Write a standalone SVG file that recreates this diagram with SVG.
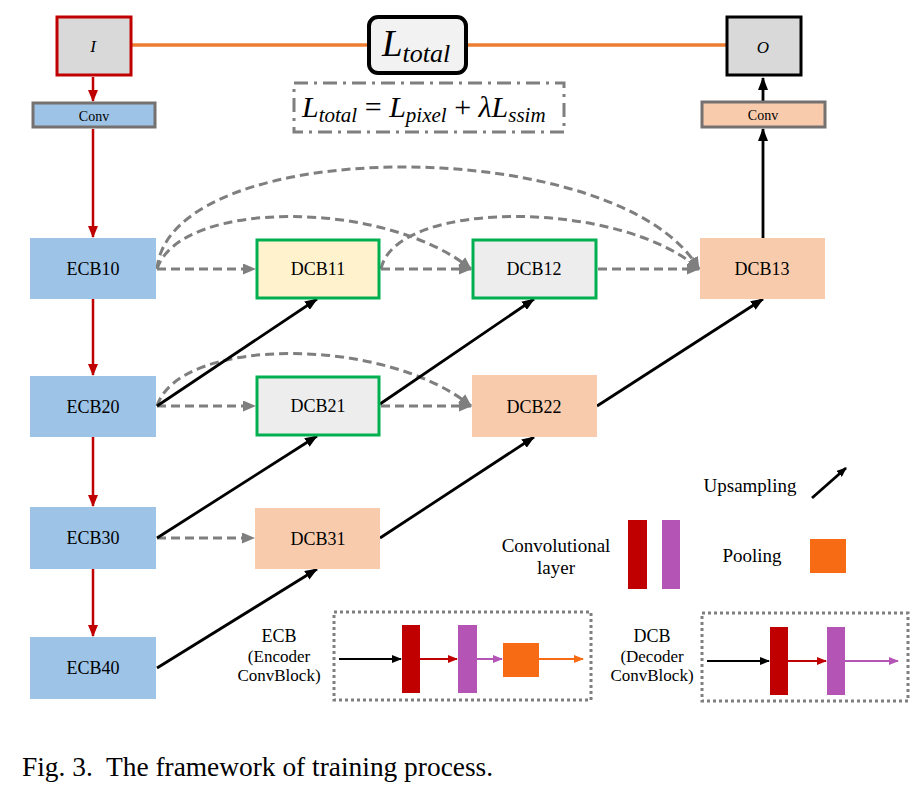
<svg xmlns="http://www.w3.org/2000/svg" width="918" height="792" viewBox="0 0 918 792">
<style>
.lbl{font-family:"Liberation Serif","Times New Roman",serif;font-size:18px;fill:#000;text-anchor:middle;dominant-baseline:central}
.leg{font-family:"Liberation Serif","Times New Roman",serif;font-size:19px;fill:#000;text-anchor:middle}
.sub{font-family:"Liberation Serif","Times New Roman",serif;font-size:17px;fill:#000;text-anchor:middle}
.math{font-family:"Liberation Serif","Times New Roman",serif;font-style:italic;fill:#000}
.ecb{fill:#9dc3e6}
.dcbp{fill:#f8cbad}
.green{stroke:#00b050;stroke-width:3}
.red{stroke:#c00000;stroke-width:2.5;fill:none}
.up{stroke:#000;stroke-width:2.8;fill:none}
.skip{stroke:#7f7f7f;stroke-width:3;fill:none;stroke-dasharray:9 5}
.dot{stroke:#7f7f7f;stroke-width:3;fill:none;stroke-dasharray:3 3}
</style>
<defs>
<marker id="mRed" markerWidth="12" markerHeight="10" refX="11" refY="5" orient="auto" markerUnits="userSpaceOnUse"><path d="M0,0 L12,5 L0,10 Z" fill="#c00000"/></marker>
<marker id="mBlk" markerWidth="13" markerHeight="10" refX="12" refY="5" orient="auto" markerUnits="userSpaceOnUse"><path d="M0,0 L13,5 L0,10 Z" fill="#000"/></marker>
<marker id="mGry" markerWidth="13" markerHeight="11" refX="12" refY="5.5" orient="auto" markerUnits="userSpaceOnUse"><path d="M0,0 L13,5.5 L0,11 Z" fill="#7f7f7f"/></marker>
<marker id="mSBlk" markerWidth="10" markerHeight="8" refX="9" refY="4" orient="auto" markerUnits="userSpaceOnUse"><path d="M0,0 L10,4 L0,8 Z" fill="#000"/></marker>
<marker id="mSRed" markerWidth="10" markerHeight="8" refX="9" refY="4" orient="auto" markerUnits="userSpaceOnUse"><path d="M0,0 L10,4 L0,8 Z" fill="#c00000"/></marker>
<marker id="mSPur" markerWidth="10" markerHeight="8" refX="9" refY="4" orient="auto" markerUnits="userSpaceOnUse"><path d="M0,0 L10,4 L0,8 Z" fill="#b455b6"/></marker>
<marker id="mSOra" markerWidth="10" markerHeight="8" refX="9" refY="4" orient="auto" markerUnits="userSpaceOnUse"><path d="M0,0 L10,4 L0,8 Z" fill="#f76b15"/></marker>
</defs>
<rect width="918" height="792" fill="#fff"/>

<g id="connectors">
<!-- loss lines -->
<line x1="132" y1="45" x2="369" y2="45" stroke="#ed7d31" stroke-width="3.5"/>
<line x1="466" y1="45" x2="727" y2="45" stroke="#ed7d31" stroke-width="3.5"/>
<!-- encoder path -->
<line class="red" x1="93" y1="77" x2="93" y2="101" marker-end="url(#mRed)"/>
<line class="red" x1="93" y1="129" x2="93" y2="237" marker-end="url(#mRed)"/>
<line class="red" x1="93" y1="299" x2="93" y2="375" marker-end="url(#mRed)"/>
<line class="red" x1="93" y1="437" x2="93" y2="506" marker-end="url(#mRed)"/>
<line class="red" x1="93" y1="569" x2="93" y2="636" marker-end="url(#mRed)"/>
<!-- output path -->
<line class="up" x1="763" y1="238" x2="763" y2="129" marker-end="url(#mBlk)"/>
<line class="up" x1="763" y1="101" x2="763" y2="78" marker-end="url(#mBlk)"/>
<!-- dense skip connections -->
<line class="skip" x1="157" y1="269" x2="255" y2="269" marker-end="url(#mGry)"/>
<line class="skip" x1="381" y1="269" x2="471" y2="269" marker-end="url(#mGry)"/>
<line class="skip" x1="598" y1="269" x2="699" y2="269" marker-end="url(#mGry)"/>
<line class="skip" x1="157" y1="406" x2="255" y2="406" marker-end="url(#mGry)"/>
<line class="skip" x1="381" y1="406" x2="471" y2="406" marker-end="url(#mGry)"/>
<line class="skip" x1="157" y1="538" x2="254" y2="538" marker-end="url(#mGry)"/>
<path class="skip" d="M157,269 C170,133 620,133 699,269" marker-end="url(#mGry)"/>
<path class="skip" d="M157,269 C180,199 385,199 471,269" marker-end="url(#mGry)"/>
<path class="skip" d="M381,269 C395,199 620,199 699,269" marker-end="url(#mGry)"/>
<path class="skip" d="M157,406 C180,336 385,336 471,406" marker-end="url(#mGry)"/>
<!-- upsampling -->
<line class="up" x1="157" y1="406" x2="317" y2="299" marker-end="url(#mBlk)"/>
<line class="up" x1="157" y1="538" x2="317" y2="436" marker-end="url(#mBlk)"/>
<line class="up" x1="157" y1="668" x2="317" y2="569" marker-end="url(#mBlk)"/>
<line class="up" x1="380" y1="404" x2="534" y2="299" marker-end="url(#mBlk)"/>
<line class="up" x1="380" y1="538" x2="534" y2="437" marker-end="url(#mBlk)"/>
<line class="up" x1="597" y1="406" x2="763" y2="299" marker-end="url(#mBlk)"/>
</g>

<g id="node-I">
<rect x="57" y="17" width="74" height="58" fill="#d9d9d9" stroke="#c00000" stroke-width="3"/>
<text class="math" x="93" y="52" font-size="17" text-anchor="middle">I</text>
</g>
<g id="node-conv-in">
<rect x="33" y="103" width="122" height="24" fill="#9dc3e6" stroke="#767171" stroke-width="3"/>
<text class="lbl" x="94" y="116" style="font-size:14px">Conv</text>
</g>
<g id="node-Ltotal">
<rect x="369" y="17" width="97" height="56" rx="9" fill="#f2f2f2" stroke="#000" stroke-width="4"/>
<text class="math" x="382" y="56"><tspan font-size="37">L</tspan><tspan font-size="26" dy="6">total</tspan></text>
</g>
<g id="formula">
<rect x="294" y="83" width="270" height="49" fill="none" stroke="#7f7f7f" stroke-width="3" stroke-dasharray="14 6 3 6"/>
<text class="math" x="302" y="117" font-size="30"><tspan>L</tspan><tspan font-size="21" dy="5">total</tspan><tspan dy="-5" font-style="normal"> = </tspan><tspan>L</tspan><tspan font-size="21" dy="5">pixel</tspan><tspan dy="-5" font-style="normal"> + </tspan><tspan>λL</tspan><tspan font-size="21" dy="5">ssim</tspan></text>
</g>
<g id="node-O">
<rect x="727" y="17" width="74" height="58" fill="#d9d9d9" stroke="#000" stroke-width="3"/>
<text class="math" x="763" y="53" font-size="17" text-anchor="middle">O</text>
</g>
<g id="node-conv-out">
<rect x="702" y="102" width="123" height="25" fill="#f8cbad" stroke="#767171" stroke-width="3"/>
<text class="lbl" x="763" y="115" style="font-size:14px">Conv</text>
</g>

<g id="node-ECB10"><rect class="ecb" x="30" y="238" width="126" height="61"/><text class="lbl" x="93" y="269">ECB10</text></g>
<g id="node-ECB20"><rect class="ecb" x="30" y="376" width="126" height="61"/><text class="lbl" x="93" y="407">ECB20</text></g>
<g id="node-ECB30"><rect class="ecb" x="30" y="507" width="126" height="62"/><text class="lbl" x="93" y="538">ECB30</text></g>
<g id="node-ECB40"><rect class="ecb" x="30" y="637" width="126" height="62"/><text class="lbl" x="93" y="668">ECB40</text></g>

<g id="node-DCB11"><rect class="green" x="257" y="240" width="122" height="58" fill="#fff2cc"/><text class="lbl" x="318" y="269">DCB11</text></g>
<g id="node-DCB12"><rect class="green" x="473" y="240" width="123" height="58" fill="#ededed"/><text class="lbl" x="534" y="269">DCB12</text></g>
<g id="node-DCB13"><rect class="dcbp" x="700" y="238" width="125" height="61"/><text class="lbl" x="762" y="269">DCB13</text></g>
<g id="node-DCB21"><rect class="green" x="257" y="377" width="122" height="58" fill="#ededed"/><text class="lbl" x="318" y="406">DCB21</text></g>
<g id="node-DCB22"><rect class="dcbp" x="472" y="375" width="125" height="62"/><text class="lbl" x="534" y="407">DCB22</text></g>
<g id="node-DCB31"><rect class="dcbp" x="255" y="508" width="125" height="61"/><text class="lbl" x="318" y="539">DCB31</text></g>

<g id="legend">
<text class="leg" x="750" y="492">Upsampling</text>
<line class="up" x1="812" y1="498" x2="846" y2="468" marker-end="url(#mSBlk)"/>
<text class="leg" x="556" y="552">Convolutional</text>
<text class="leg" x="556" y="574">layer</text>
<rect x="628" y="520" width="19" height="69" fill="#c00000"/>
<rect x="662" y="520" width="18" height="69" fill="#b455b6"/>
<text class="leg" x="752" y="562">Pooling</text>
<rect x="810" y="539" width="36" height="34" fill="#f76b15"/>
</g>

<g id="legend-ECB">
<text class="leg" x="279" y="642" style="font-size:18px">ECB</text>
<text class="sub" x="279" y="662">(Encoder</text>
<text class="sub" x="279" y="681">ConvBlock)</text>
<rect class="dot" x="334" y="612" width="257" height="88"/>
<line x1="339" y1="659" x2="401" y2="659" stroke="#000" stroke-width="2" marker-end="url(#mSBlk)"/>
<rect x="402" y="625" width="18" height="68" fill="#c00000"/>
<line x1="420" y1="659" x2="457" y2="659" stroke="#c00000" stroke-width="2" marker-end="url(#mSRed)"/>
<rect x="458" y="625" width="19" height="68" fill="#b455b6"/>
<line x1="477" y1="659" x2="502" y2="659" stroke="#b455b6" stroke-width="2" marker-end="url(#mSPur)"/>
<rect x="503" y="643" width="36" height="34" fill="#f76b15"/>
<line x1="539" y1="659" x2="583" y2="659" stroke="#f76b15" stroke-width="2" marker-end="url(#mSOra)"/>
</g>

<g id="legend-DCB">
<text class="leg" x="652" y="642" style="font-size:18px">DCB</text>
<text class="sub" x="652" y="662">(Decoder</text>
<text class="sub" x="652" y="681">ConvBlock)</text>
<rect class="dot" x="702" y="613" width="206" height="88"/>
<line x1="707" y1="661" x2="769" y2="661" stroke="#000" stroke-width="2" marker-end="url(#mSBlk)"/>
<rect x="770" y="627" width="18" height="68" fill="#c00000"/>
<line x1="788" y1="661" x2="826" y2="661" stroke="#c00000" stroke-width="2" marker-end="url(#mSRed)"/>
<rect x="827" y="627" width="18" height="68" fill="#b455b6"/>
<line x1="845" y1="661" x2="898" y2="661" stroke="#b455b6" stroke-width="2" marker-end="url(#mSPur)"/>
</g>

<text x="22" y="776" xml:space="preserve" style="font-family:'Liberation Serif','Times New Roman',serif;font-size:27.4px;fill:#000">Fig. 3.  The framework of training process.</text>
</svg>
